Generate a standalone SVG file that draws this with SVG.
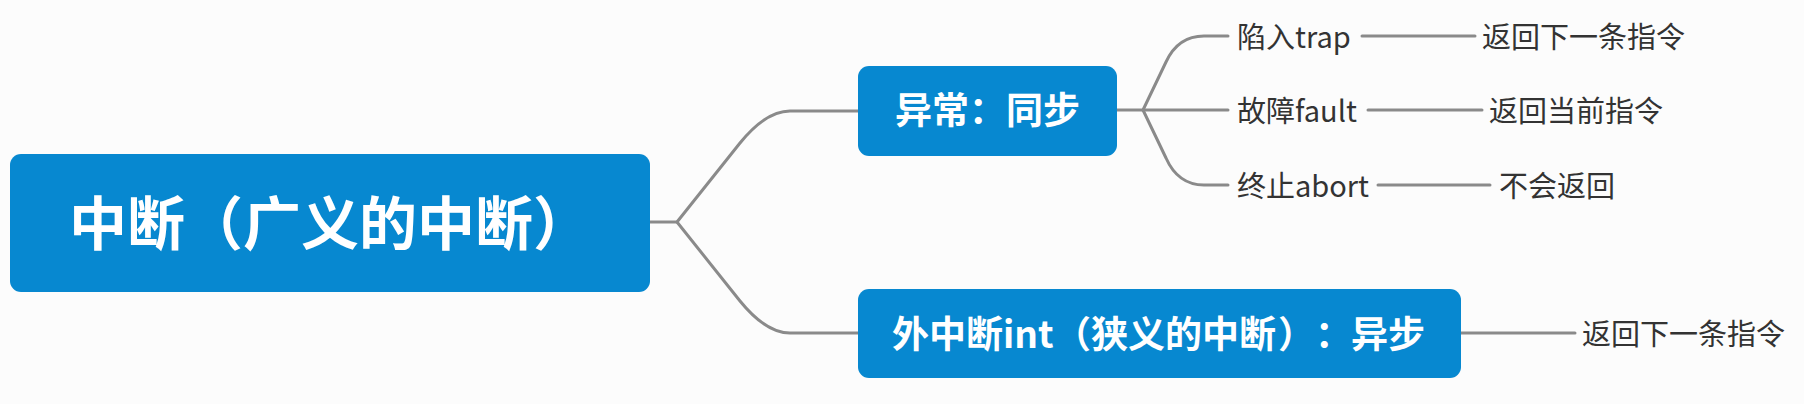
<svg xmlns="http://www.w3.org/2000/svg" width="1804" height="404" viewBox="0 0 1804 404">
<style>
.box{fill:#0788d0;}
.t{font-family:"Noto Sans CJK SC","Noto Sans",sans-serif;}
.w{fill:#ffffff;font-weight:bold;text-anchor:middle;}
.d{fill:#333333;font-size:29px;}
.c{fill:none;stroke:#8a8a8a;stroke-width:3;stroke-linecap:round;stroke-linejoin:round;}
</style>
<rect width="1804" height="404" fill="#fcfcfc"/>
<g id="connectors">
<path class="c" d="M650,222 H677 L740,143 Q766,111 790,111 H858"/>
<path class="c" d="M677,222 L740,301 Q766,333 790,333 H858"/>
<path class="c" d="M1117,110 H1143 L1166,62 Q1178,36 1204,36 H1228"/>
<path class="c" d="M1143,110 H1228"/>
<path class="c" d="M1143,110 L1166,158 Q1178,185 1204,185 H1228"/>
<path class="c" d="M1362,36 H1475"/>
<path class="c" d="M1368,110 H1482"/>
<path class="c" d="M1378,185 H1490"/>
<path class="c" d="M1461,333 H1575"/>
</g>
<g id="root">
<rect class="box" x="10" y="154" width="640" height="138" rx="11"/>
<text class="t w" x="330" y="245" font-size="58">中断（广义的中断）</text>
</g>
<g id="sync">
<rect class="box" x="858" y="66" width="259" height="90" rx="11"/>
<text class="t w" x="987.5" y="124" font-size="37">异常：同步</text>
</g>
<g id="async">
<rect class="box" x="858" y="289" width="603" height="89" rx="11"/>
<text class="t w" x="892" y="348" font-size="37" style="text-anchor:start"><tspan>外中断int</tspan><tspan x="1054">（狭义的中断</tspan><tspan x="1278">）</tspan><tspan x="1315">：</tspan><tspan x="1351">异步</tspan></text>
</g>
<g id="trap"><text class="t d" x="1237" y="47.5">陷入trap</text></g>
<g id="fault"><text class="t d" x="1237" y="121.5">故障fault</text></g>
<g id="abort"><text class="t d" x="1237" y="196.5">终止abort</text></g>
<g id="trap-ret"><text class="t d" x="1482" y="47.5">返回下一条指令</text></g>
<g id="fault-ret"><text class="t d" x="1489" y="121.5">返回当前指令</text></g>
<g id="abort-ret"><text class="t d" x="1499" y="196.5">不会返回</text></g>
<g id="int-ret"><text class="t d" x="1582" y="344.5">返回下一条指令</text></g>
</svg>
